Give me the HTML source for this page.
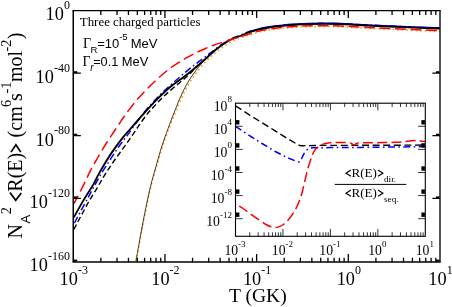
<!DOCTYPE html>
<html><head><meta charset="utf-8"><title>Three charged particles</title>
<style>
html,body{margin:0;padding:0;background:#fff;}
body{width:452px;height:307px;overflow:hidden;font-family:"Liberation Serif",serif;}
svg{display:block;will-change:transform;}
</style></head><body>
<svg width="452" height="307" viewBox="0 0 452 307">
<g fill="none" stroke-linejoin="round">
<path d="M136.3 261 C136.72 258.65 137.98 251.48 138.8 246.9 C139.62 242.32 140.38 237.95 141.2 233.5 C142.02 229.05 142.83 224.63 143.7 220.2 C144.57 215.77 145.48 211.32 146.4 206.9 C147.32 202.48 148.2 198.05 149.2 193.7 C150.2 189.35 151.17 185.32 152.4 180.8 C153.63 176.28 155.18 171.43 156.6 166.6 C158.02 161.77 159.5 156.35 160.9 151.8 C162.3 147.25 163.65 143.17 165 139.3 C166.35 135.43 167.68 132.07 169 128.6 C170.32 125.13 171.6 121.78 172.9 118.5 C174.2 115.22 175.5 112.02 176.8 108.9 C178.1 105.78 179.3 102.88 180.7 99.8 C182.1 96.72 183.6 93.43 185.2 90.4 C186.8 87.37 188.42 84.57 190.3 81.6 C192.18 78.63 193.98 75.87 196.5 72.6 C199.02 69.33 202.45 65.13 205.4 62 C208.35 58.87 211.25 56.33 214.2 53.8 C217.15 51.27 220.15 48.85 223.1 46.8 C226.05 44.75 228.95 43.02 231.9 41.5 C234.85 39.98 237.85 38.82 240.8 37.7 C243.75 36.58 246.78 35.72 249.6 34.8 C252.42 33.88 254.88 32.93 257.7 32.2 C260.52 31.47 263.55 30.95 266.5 30.42 C269.45 29.9 272.45 29.43 275.4 29.05 C278.35 28.68 281.25 28.43 284.2 28.17 C287.15 27.92 290.15 27.7 293.1 27.5 C296.05 27.3 299.08 27.11 301.9 26.97 C304.72 26.84 306.98 26.77 310 26.7 C313.02 26.62 316.67 26.55 320 26.52 C323.33 26.5 326.67 26.5 330 26.55 C333.33 26.6 336.67 26.7 340 26.82 C343.33 26.95 346.67 27.12 350 27.3 C353.33 27.47 356.33 27.67 360 27.87 C363.67 28.07 367.05 28.25 372 28.5 C376.95 28.75 383.8 29.1 389.7 29.37 C395.6 29.65 401.5 29.9 407.4 30.15 C413.3 30.4 419.73 30.65 425.1 30.88 C430.47 31.1 437.18 31.4 439.6 31.5" stroke="#ff9a00" stroke-width="1.6" stroke-dasharray="1.5 3.1"/>
<path d="M136 260.8 C136.42 258.45 137.68 251.28 138.5 246.7 C139.32 242.12 140.08 237.75 140.9 233.3 C141.72 228.85 142.53 224.43 143.4 220 C144.27 215.57 145.18 211.12 146.1 206.7 C147.02 202.28 147.92 197.85 148.9 193.5 C149.88 189.15 150.82 185.12 152 180.6 C153.18 176.08 154.63 171.25 156 166.4 C157.37 161.55 158.82 156.07 160.2 151.5 C161.58 146.93 162.97 142.88 164.3 139 C165.63 135.12 166.92 131.7 168.2 128.2 C169.48 124.7 170.73 121.32 172 118 C173.27 114.68 174.53 111.47 175.8 108.3 C177.07 105.13 178.23 102.13 179.6 99 C180.97 95.87 182.43 92.58 184 89.5 C185.57 86.42 187.2 83.42 189 80.5 C190.8 77.58 192.97 74.53 194.8 72 C196.63 69.47 198.23 67.48 200 65.3 C201.77 63.12 203.03 61.35 205.4 58.9 C207.77 56.45 211.25 53.07 214.2 50.6 C217.15 48.13 220.15 46.03 223.1 44.1 C226.05 42.17 230.43 39.85 231.9 39" stroke="#3a2408" stroke-width="0.9"/>
<path d="M74.4 223 C76.62 218.88 84.55 204.17 87.7 198.3 C90.85 192.43 91.05 191.87 93.3 187.8 C95.55 183.73 98.4 178.57 101.2 173.9 C104 169.23 107.15 164.37 110.1 159.8 C113.05 155.23 116.1 150.48 118.9 146.5 C121.7 142.52 124.22 139.55 126.9 135.9 C129.58 132.25 132.12 128.55 135 124.6 C137.88 120.65 141.18 115.95 144.2 112.2 C147.22 108.45 150.15 105.3 153.1 102.1 C156.05 98.9 158.95 95.88 161.9 93 C164.85 90.12 167.85 87.42 170.8 84.8 C173.75 82.18 176.78 79.72 179.6 77.3 C182.42 74.88 184.88 72.62 187.7 70.3 C190.52 67.98 193.55 65.65 196.5 63.4 C199.45 61.15 202.45 59.03 205.4 56.8 C208.35 54.57 211.25 52.2 214.2 50 C217.15 47.8 220.15 45.52 223.1 43.6 C226.05 41.68 229.08 39.87 231.9 38.5 C234.72 37.13 237.18 36.52 240 35.4 C242.82 34.28 245.85 32.83 248.8 31.8 C251.75 30.77 254.75 29.93 257.7 29.2 C260.65 28.47 263.55 27.93 266.5 27.4 C269.45 26.87 272.45 26.38 275.4 26 C278.35 25.62 281.25 25.37 284.2 25.1 C287.15 24.83 290.15 24.61 293.1 24.4 C296.05 24.19 299.08 23.99 301.9 23.85 C304.72 23.71 306.98 23.63 310 23.55 C313.02 23.47 316.67 23.38 320 23.35 C323.33 23.32 326.67 23.31 330 23.35 C333.33 23.39 336.67 23.48 340 23.6 C343.33 23.72 346.67 23.88 350 24.05 C353.33 24.22 356.33 24.41 360 24.6 C363.67 24.79 367.05 24.96 372 25.2 C376.95 25.44 383.8 25.78 389.7 26.05 C395.6 26.32 401.5 26.56 407.4 26.8 C413.3 27.04 419.73 27.28 425.1 27.5 C430.47 27.72 437.18 28 439.6 28.1" stroke="#0000ff" stroke-width="1.5" stroke-dasharray="7 3 1.5 3"/>
<path d="M248.8 31.8 C250.28 31.37 254.75 29.93 257.7 29.2 C260.65 28.47 263.55 27.93 266.5 27.4 C269.45 26.87 272.45 26.38 275.4 26 C278.35 25.62 281.25 25.37 284.2 25.1 C287.15 24.83 290.15 24.61 293.1 24.4 C296.05 24.19 299.08 23.99 301.9 23.85 C304.72 23.71 306.98 23.63 310 23.55 C313.02 23.47 316.67 23.38 320 23.35 C323.33 23.32 326.67 23.31 330 23.35 C333.33 23.39 336.67 23.48 340 23.6 C343.33 23.72 346.67 23.88 350 24.05 C353.33 24.22 356.33 24.41 360 24.6 C363.67 24.79 367.05 24.96 372 25.2 C376.95 25.44 383.8 25.78 389.7 26.05 C395.6 26.32 401.5 26.56 407.4 26.8 C413.3 27.04 419.73 27.28 425.1 27.5 C430.47 27.72 437.18 28 439.6 28.1" stroke="#0000d0" stroke-width="1.6"/>
<path d="M73.9 229.4 C76.2 225.08 83.82 210.43 87.7 203.5 C91.58 196.57 94.35 192.58 97.2 187.8 C100.05 183.02 102.07 179.18 104.8 174.8 C107.53 170.42 110.65 165.77 113.6 161.5 C116.55 157.23 119.55 153.32 122.5 149.2 C125.45 145.08 128.47 140.9 131.3 136.8 C134.13 132.7 136.75 128.52 139.5 124.6 C142.25 120.68 145.53 116.17 147.8 113.3 C150.07 110.43 150.75 109.93 153.1 107.4 C155.45 104.87 158.95 100.98 161.9 98.1 C164.85 95.22 167.85 92.67 170.8 90.1 C173.75 87.53 176.9 84.98 179.6 82.7 C182.3 80.42 184.77 78.42 187 76.4 C189.23 74.38 191 72.57 193 70.6 C195 68.63 198 65.6 199 64.6" stroke="#000" stroke-width="1.4" stroke-dasharray="5.5 3"/>
<path d="M73.9 217.2 C75.47 214.43 80.1 205.98 83.3 200.6 C86.5 195.22 90.67 189.07 93.1 184.9 C95.53 180.73 95.67 179.63 97.9 175.6 C100.13 171.57 103.58 165.4 106.5 160.7 C109.42 156 112.45 151.53 115.4 147.4 C118.35 143.27 121.87 138.8 124.2 135.9 C126.53 133 127.35 132.35 129.4 130 C131.45 127.65 134.03 124.62 136.5 121.8 C138.97 118.98 141.43 116.17 144.2 113.1 C146.97 110.03 150.15 106.5 153.1 103.4 C156.05 100.3 158.95 97.32 161.9 94.5 C164.85 91.68 167.85 88.92 170.8 86.5 C173.75 84.08 176.78 82.08 179.6 80 C182.42 77.92 184.88 76.2 187.7 74 C190.52 71.8 193.55 69.3 196.5 66.8 C199.45 64.3 202.45 61.63 205.4 59 C208.35 56.37 211.25 53.45 214.2 51 C217.15 48.55 220.15 46.3 223.1 44.3 C226.05 42.3 229.08 40.38 231.9 39 C234.72 37.62 237.18 37.1 240 36 C242.82 34.9 245.85 33.43 248.8 32.4 C251.75 31.37 254.75 30.53 257.7 29.8 C260.65 29.07 263.55 28.53 266.5 28 C269.45 27.47 272.45 26.98 275.4 26.6 C278.35 26.22 281.25 25.97 284.2 25.7 C287.15 25.43 290.15 25.21 293.1 25 C296.05 24.79 299.08 24.59 301.9 24.45 C304.72 24.31 306.98 24.23 310 24.15 C313.02 24.07 316.67 23.98 320 23.95 C323.33 23.92 326.67 23.91 330 23.95 C333.33 23.99 336.67 24.08 340 24.2 C343.33 24.32 346.67 24.48 350 24.65 C353.33 24.82 356.33 25.01 360 25.2 C363.67 25.39 367.05 25.56 372 25.8 C376.95 26.04 383.8 26.38 389.7 26.65 C395.6 26.92 401.5 27.16 407.4 27.4 C413.3 27.64 419.73 27.88 425.1 28.1 C430.47 28.32 437.18 28.6 439.6 28.7" stroke="#000" stroke-width="1.85"/>
<path d="M73.9 203.6 C75.42 200.7 80.22 191.73 83 186.2 C85.78 180.67 87.85 175.68 90.6 170.4 C93.35 165.12 96.85 159.07 99.5 154.5 C102.15 149.93 104.23 146.58 106.5 143 C108.77 139.42 110.93 136.28 113.1 133 C115.27 129.72 117.27 126.62 119.5 123.3 C121.73 119.98 123.85 116.72 126.5 113.1 C129.15 109.48 132.45 105.13 135.4 101.6 C138.35 98.07 141.25 95 144.2 91.9 C147.15 88.8 150.15 85.82 153.1 83 C156.05 80.18 158.95 77.53 161.9 75 C164.85 72.47 167.98 69.88 170.8 67.8 C173.62 65.72 175.98 64.27 178.8 62.5 C181.62 60.73 184.75 58.87 187.7 57.2 C190.65 55.53 193.55 53.95 196.5 52.5 C199.45 51.05 202.45 49.75 205.4 48.5 C208.35 47.25 211.25 46.07 214.2 45 C217.15 43.93 220.15 43.07 223.1 42.1 C226.05 41.13 228.95 40.13 231.9 39.2 C234.85 38.27 237.85 37.38 240.8 36.5 C243.75 35.62 246.78 34.77 249.6 33.9 C252.42 33.03 254.88 32.03 257.7 31.3 C260.52 30.57 263.55 30.05 266.5 29.53 C269.45 29.01 272.45 28.54 275.4 28.16 C278.35 27.79 281.25 27.55 284.2 27.29 C287.15 27.04 290.15 26.82 293.1 26.62 C296.05 26.43 299.08 26.24 301.9 26.11 C304.72 25.97 306.98 25.91 310 25.84 C313.02 25.76 316.67 25.69 320 25.67 C323.33 25.65 326.67 25.65 330 25.7 C333.33 25.75 336.67 25.85 340 25.98 C343.33 26.11 346.67 26.29 350 26.46 C353.33 26.64 356.33 26.84 360 27.04 C363.67 27.25 367.05 27.42 372 27.68 C376.95 27.93 383.8 28.28 389.7 28.56 C395.6 28.83 401.5 29.09 407.4 29.34 C413.3 29.59 419.73 29.84 425.1 30.07 C430.47 30.3 437.18 30.59 439.6 30.7" stroke="#ff0000" stroke-width="1.5" stroke-dasharray="10.8 4.7" stroke-dashoffset="2"/>
</g>
<rect x="235.5" y="103.2" width="189.8" height="133.1" fill="#fff"/>
<clipPath id="ic"><rect x="235.5" y="103.2" width="189.8" height="133.1"/></clipPath>
<g fill="none" clip-path="url(#ic)" stroke-linejoin="round">
<path d="M235.5 105.9 L250.1 115.3 L262 122.7 L275.2 130.9 L287.9 138.8 L297 144.2 L299.8 145.6 L303 145.7 L320 145.4 L360 145.3 L400 145.2 L425.4 145" stroke="#000" stroke-width="1.4" stroke-dasharray="7 3.6"/>
<path d="M235.5 126.3 L250.1 136 L262 143.5 L275.2 151.5 L287.9 157.9 L297 161.6 L299.3 162 L301.5 158.8 L304 153.6 L306.3 150.3 L308.5 148.5 L312 147.8 L330 147.6 L360 147.4 L400 147 L425.4 146.6" stroke="#0000ff" stroke-width="1.5" stroke-dasharray="7 3.4 1.6 3.4"/>
<path d="M235.8 203.9 C237 204.67 240.47 206.77 243 208.5 C245.53 210.23 248.33 212.38 251 214.3 C253.67 216.22 256.5 218.3 259 220 C261.5 221.7 264 223.37 266 224.5 C268 225.63 269.47 226.32 271 226.8 C272.53 227.28 273.78 227.43 275.2 227.4 C276.62 227.37 278.03 227.17 279.5 226.6 C280.97 226.03 282.42 225.27 284 224 C285.58 222.73 287.33 221 289 219 C290.67 217 292.42 214.67 294 212 C295.58 209.33 297.17 206.17 298.5 203 C299.83 199.83 300.93 196.75 302 193 C303.07 189.25 303.98 184.33 304.9 180.5 C305.82 176.67 306.6 173.28 307.5 170 C308.4 166.72 309.47 163.38 310.3 160.8 C311.13 158.22 311.77 156.23 312.5 154.5 C313.23 152.77 313.95 151.5 314.7 150.4 C315.45 149.3 316.25 148.62 317 147.9 C317.75 147.18 318.08 146.77 319.2 146.1 C320.32 145.43 322.23 144.43 323.7 143.9 C325.17 143.37 326.52 143.13 328 142.9 C329.48 142.67 330.33 142.57 332.6 142.5 C334.87 142.43 338.87 142.47 341.6 142.5 C344.33 142.53 347.35 142.53 349 142.7 C350.65 142.87 350.7 143.12 351.5 143.5 C352.3 143.88 352.97 145.02 353.8 145 C354.63 144.98 355.47 143.75 356.5 143.4 C357.53 143.05 356.92 143.02 360 142.9 C363.08 142.78 369.17 142.8 375 142.7 C380.83 142.6 390 142.48 395 142.3 C400 142.12 401.8 141.88 405 141.6 C408.2 141.32 411.7 140.72 414.2 140.6 C416.7 140.48 418.13 140.75 420 140.9 C421.87 141.05 424.5 141.4 425.4 141.5" stroke="#ff0000" stroke-width="1.5" stroke-dasharray="10 4.2" stroke-dashoffset="10.2"/>
</g>
<g stroke="#000" fill="none">
<path d="M72.5 10.6H440.7" stroke-width="1.3"/><path d="M72.5 262H440.7" stroke-width="1.4"/>
<path d="M73.25 10.6V262" stroke-width="1.5"/><path d="M440 10.6V262" stroke-width="1.35"/>
<path d="M100.85 262v-4.2M100.85 10.6v4.3M117 262v-4.2M117 10.6v4.3M128.45 262v-4.2M128.45 10.6v4.3M137.34 262v-4.2M137.34 10.6v4.3M144.6 262v-4.2M144.6 10.6v4.3M150.73 262v-4.2M150.73 10.6v4.3M156.05 262v-4.2M156.05 10.6v4.3M160.74 262v-4.2M160.74 10.6v4.3M164.94 262v-7.9M164.94 10.6v7.3M192.54 262v-4.2M192.54 10.6v4.3M208.68 262v-4.2M208.68 10.6v4.3M220.14 262v-4.2M220.14 10.6v4.3M229.02 262v-4.2M229.02 10.6v4.3M236.28 262v-4.2M236.28 10.6v4.3M242.42 262v-4.2M242.42 10.6v4.3M247.74 262v-4.2M247.74 10.6v4.3M252.43 262v-4.2M252.43 10.6v4.3M256.62 262v-7.9M256.62 10.6v7.3M284.23 262v-4.2M284.23 10.6v4.3M300.37 262v-4.2M300.37 10.6v4.3M311.83 262v-4.2M311.83 10.6v4.3M320.71 262v-4.2M320.71 10.6v4.3M327.97 262v-4.2M327.97 10.6v4.3M334.11 262v-4.2M334.11 10.6v4.3M339.43 262v-4.2M339.43 10.6v4.3M344.12 262v-4.2M344.12 10.6v4.3M348.31 262v-7.9M348.31 10.6v7.3M375.91 262v-4.2M375.91 10.6v4.3M392.06 262v-4.2M392.06 10.6v4.3M403.51 262v-4.2M403.51 10.6v4.3M412.4 262v-4.2M412.4 10.6v4.3M419.66 262v-4.2M419.66 10.6v4.3M425.8 262v-4.2M425.8 10.6v4.3M431.11 262v-4.2M431.11 10.6v4.3M435.8 262v-4.2M435.8 10.6v4.3" stroke-width="1.3"/>
<path d="M73.25 73.2h7.6M440 73.2h-7.6M73.25 135.7h7.6M440 135.7h-7.6M73.25 198.4h7.6M440 198.4h-7.6" stroke-width="1.2"/>
<rect x="73.85" y="71.2" width="3.4" height="1.8" fill="#000" stroke="none"/><rect x="436" y="71.2" width="3.4" height="1.8" fill="#000" stroke="none"/><rect x="73.85" y="133.7" width="3.4" height="1.8" fill="#000" stroke="none"/><rect x="436" y="133.7" width="3.4" height="1.8" fill="#000" stroke="none"/><rect x="73.85" y="196.4" width="3.4" height="1.8" fill="#000" stroke="none"/><rect x="436" y="196.4" width="3.4" height="1.8" fill="#000" stroke="none"/><rect x="73.85" y="259.6" width="3.4" height="1.8" fill="#000" stroke="none"/><rect x="436" y="259.6" width="3.4" height="1.8" fill="#000" stroke="none"/>
<rect x="235.5" y="103.2" width="189.8" height="133.1" stroke-width="1.1"/>
<path d="M249.78 236.3v-4M249.78 103.2v3.8M258.14 236.3v-4M258.14 103.2v3.8M264.07 236.3v-4M264.07 103.2v3.8M268.67 236.3v-4M268.67 103.2v3.8M272.42 236.3v-4M272.42 103.2v3.8M275.6 236.3v-4M275.6 103.2v3.8M278.35 236.3v-4M278.35 103.2v3.8M280.78 236.3v-4M280.78 103.2v3.8M282.95 236.3v-7.4M282.95 103.2v7.2M297.23 236.3v-4M297.23 103.2v3.8M305.59 236.3v-4M305.59 103.2v3.8M311.52 236.3v-4M311.52 103.2v3.8M316.12 236.3v-4M316.12 103.2v3.8M319.87 236.3v-4M319.87 103.2v3.8M323.05 236.3v-4M323.05 103.2v3.8M325.8 236.3v-4M325.8 103.2v3.8M328.23 236.3v-4M328.23 103.2v3.8M330.4 236.3v-7.4M330.4 103.2v7.2M344.68 236.3v-4M344.68 103.2v3.8M353.04 236.3v-4M353.04 103.2v3.8M358.97 236.3v-4M358.97 103.2v3.8M363.57 236.3v-4M363.57 103.2v3.8M367.32 236.3v-4M367.32 103.2v3.8M370.5 236.3v-4M370.5 103.2v3.8M373.25 236.3v-4M373.25 103.2v3.8M375.68 236.3v-4M375.68 103.2v3.8M377.85 236.3v-7.4M377.85 103.2v7.2M392.13 236.3v-4M392.13 103.2v3.8M400.49 236.3v-4M400.49 103.2v3.8M406.42 236.3v-4M406.42 103.2v3.8M411.02 236.3v-4M411.02 103.2v3.8M414.77 236.3v-4M414.77 103.2v3.8M417.95 236.3v-4M417.95 103.2v3.8M420.7 236.3v-4M420.7 103.2v3.8M423.13 236.3v-4M423.13 103.2v3.8" stroke-width="0.8"/>
<path d="M235.5 126.3h7.2M425.3 126.3h-7.2M235.5 149.4h7.2M425.3 149.4h-7.2M235.5 172.5h7.2M425.3 172.5h-7.2M235.5 195.6h7.2M425.3 195.6h-7.2M235.5 218.7h7.2M425.3 218.7h-7.2" stroke-width="0.8"/>
<rect x="235.9" y="120.1" width="3.5" height="4.4" fill="#000" stroke="none"/><rect x="421.4" y="120.1" width="3.5" height="4.4" fill="#000" stroke="none"/><rect x="235.9" y="143.2" width="3.5" height="4.4" fill="#000" stroke="none"/><rect x="421.4" y="143.2" width="3.5" height="4.4" fill="#000" stroke="none"/><rect x="235.9" y="166.3" width="3.5" height="4.4" fill="#000" stroke="none"/><rect x="421.4" y="166.3" width="3.5" height="4.4" fill="#000" stroke="none"/><rect x="235.9" y="189.4" width="3.5" height="4.4" fill="#000" stroke="none"/><rect x="421.4" y="189.4" width="3.5" height="4.4" fill="#000" stroke="none"/><rect x="235.9" y="212.5" width="3.5" height="4.4" fill="#000" stroke="none"/><rect x="421.4" y="212.5" width="3.5" height="4.4" fill="#000" stroke="none"/>
<path d="M334.8 184.4H406.3" stroke-width="1"/>
</g>
<g font-family="'Liberation Serif', serif" fill="#000">
<text x="69.9" y="20.4" text-anchor="end" font-size="18.3">10<tspan font-size="12" dy="-11.3">0</tspan></text>
<text x="69.9" y="82.9" text-anchor="end" font-size="18.3">10<tspan font-size="12" dy="-11.3">-40</tspan></text>
<text x="69.9" y="145.5" text-anchor="end" font-size="18.3">10<tspan font-size="12" dy="-11.3">-80</tspan></text>
<text x="69.9" y="208.2" text-anchor="end" font-size="18.3">10<tspan font-size="12" dy="-11.3">-120</tspan></text>
<text x="69.9" y="270.8" text-anchor="end" font-size="18.3">10<tspan font-size="12" dy="-11.3">-160</tspan></text>
<text x="73.75" y="285" text-anchor="middle" font-size="18.3">10<tspan font-size="12" dy="-11">-3</tspan></text>
<text x="165.44" y="285" text-anchor="middle" font-size="18.3">10<tspan font-size="12" dy="-11">-2</tspan></text>
<text x="257.12" y="285" text-anchor="middle" font-size="18.3">10<tspan font-size="12" dy="-11">-1</tspan></text>
<text x="348.81" y="285" text-anchor="middle" font-size="18.3">10<tspan font-size="12" dy="-11">0</tspan></text>
<text x="440.5" y="285" text-anchor="middle" font-size="18.3">10<tspan font-size="12" dy="-11">1</tspan></text>
<text x="231.9" y="110.5" text-anchor="end" font-size="13.7">10<tspan font-size="9" dy="-8.3">8</tspan></text>
<text x="231.9" y="133.6" text-anchor="end" font-size="13.7">10<tspan font-size="9" dy="-8.3">4</tspan></text>
<text x="231.9" y="156.7" text-anchor="end" font-size="13.7">10<tspan font-size="9" dy="-8.3">0</tspan></text>
<text x="231.9" y="179.8" text-anchor="end" font-size="13.7">10<tspan font-size="9" dy="-8.3">-4</tspan></text>
<text x="231.9" y="202.9" text-anchor="end" font-size="13.7">10<tspan font-size="9" dy="-8.3">-8</tspan></text>
<text x="231.9" y="226" text-anchor="end" font-size="13.7">10<tspan font-size="9" dy="-8.3">-12</tspan></text>
<text x="235" y="255.2" text-anchor="middle" font-size="13.7">10<tspan font-size="9" dy="-8.3">-3</tspan></text>
<text x="282.45" y="255.2" text-anchor="middle" font-size="13.7">10<tspan font-size="9" dy="-8.3">-2</tspan></text>
<text x="329.9" y="255.2" text-anchor="middle" font-size="13.7">10<tspan font-size="9" dy="-8.3">-1</tspan></text>
<text x="377.35" y="255.2" text-anchor="middle" font-size="13.7">10<tspan font-size="9" dy="-8.3">0</tspan></text>
<text x="424.8" y="255.2" text-anchor="middle" font-size="13.7">10<tspan font-size="9" dy="-8.3">1</tspan></text>
<text x="228.9" y="302.1" font-size="19.6">T (GK)</text>
<text x="79.8" y="26.4" font-size="12.9">Three charged particles</text>
<text x="83.0" y="47.5" font-size="14">&#915;<tspan font-family="'Liberation Sans', sans-serif" font-size="9.6" dy="5.1" dx="-0.5">R</tspan><tspan font-family="'Liberation Sans', sans-serif" font-size="13" dy="-5.1" dx="-0.4">=10</tspan><tspan font-family="'Liberation Sans', sans-serif" font-size="9.5" dy="-7.1">-5</tspan><tspan font-family="'Liberation Sans', sans-serif" font-size="13" dy="7.1" dx="-0.5"> MeV</tspan></text>
<text x="82.6" y="66.3" font-size="14">&#915;<tspan font-family="'Liberation Sans', sans-serif" font-size="10" dy="5.1" dx="-0.5" font-style="italic">r</tspan><tspan font-family="'Liberation Sans', sans-serif" font-size="12.8" dy="-5.1" dx="-0.4">=0.1</tspan><tspan font-family="'Liberation Sans', sans-serif" font-size="12.9" dx="-0.2"> MeV</tspan></text>
<text x="351.5" y="177.4" font-size="13.1">R(E)</text><text x="384.0" y="181.9" font-size="9.2">dir.</text>
<text x="351.5" y="197.4" font-size="13.1">R(E)</text><text x="384.0" y="202.0" font-size="9.2">seq.</text>
<path d="M350.9 170.1L346 173.2L350.9 176.3M378 170.1L382.9 173.2L378 176.3M350.9 190.1L346 193.2L350.9 196.3M378 190.1L382.9 193.2L378 196.3" fill="none" stroke="#000" stroke-width="1.15"/>
<text transform="translate(22.2,238.6) rotate(-90)" font-size="20" >N</text>
<text transform="translate(30.1,223.5) rotate(-90)" font-size="13" font-family="'Liberation Sans', sans-serif">A</text>
<text transform="translate(10.5,214.2) rotate(-90)" font-size="14.3" >2</text>
<text transform="translate(22.2,191.7) rotate(-90)" font-size="20" >R(E)</text>
<text transform="translate(22.2,137.4) rotate(-90)" font-size="20" >(cm</text>
<text transform="translate(10.5,107.1) rotate(-90)" font-size="14.3" >6</text>
<text transform="translate(22.2,100.9) rotate(-90)" font-size="20" >s</text>
<text transform="translate(10.5,93.5) rotate(-90)" font-size="14.3" >-1</text>
<text transform="translate(22.2,82.1) rotate(-90)" font-size="20" >mol</text>
<text transform="translate(10.5,51.5) rotate(-90)" font-size="14.3" >-2</text>
<text transform="translate(22.2,39.2) rotate(-90)" font-size="20" >)</text>
<path d="M9.9 192.6L15.7 200.3L21.3 193.1M11.0 152.1L15.9 144.7L20.8 152.1" fill="none" stroke="#000" stroke-width="1.7" stroke-linejoin="miter"/>
</g>
</svg>
</body></html>
